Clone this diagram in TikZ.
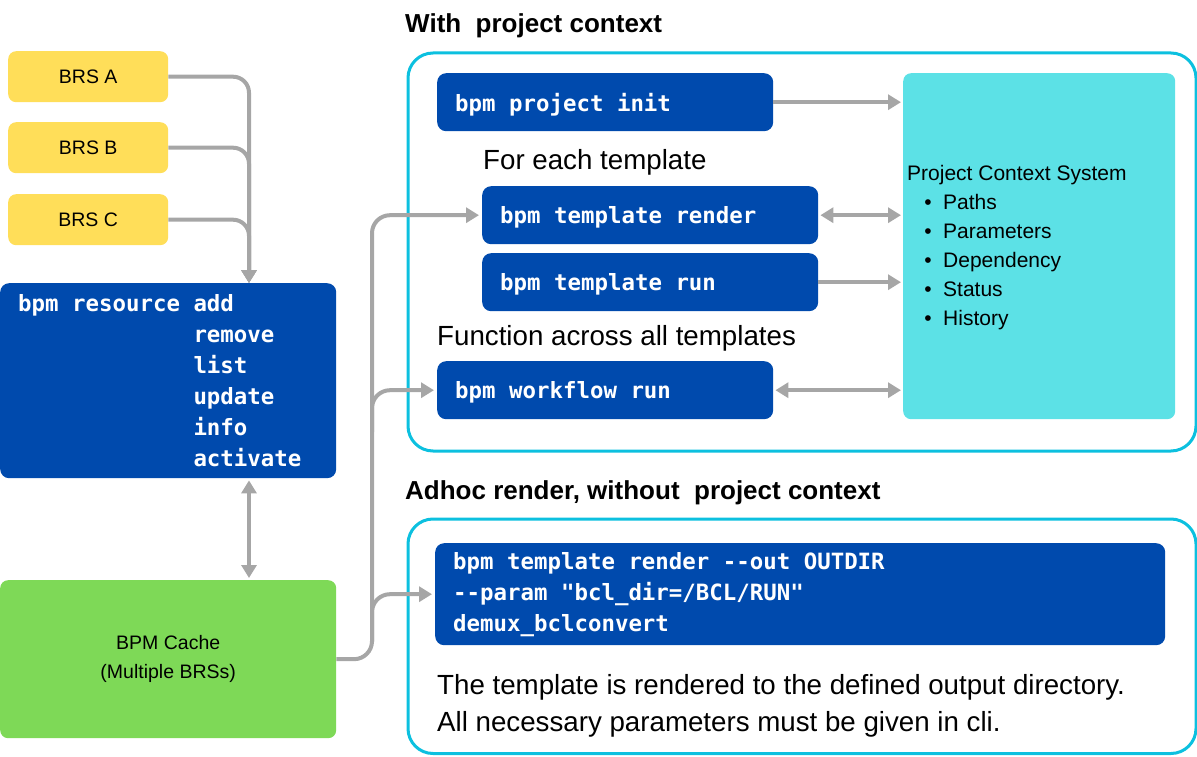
\documentclass[tikz,border=0pt]{standalone}
\usepackage{fontspec}
\setmainfont{Liberation Sans}
\setmonofont{DejaVu Sans Mono}
\usetikzlibrary{arrows.meta}
\definecolor{cblue}{HTML}{004AAD}
\definecolor{cyellow}{HTML}{FFDE59}
\definecolor{cgreen}{HTML}{7ED957}
\definecolor{ccyan}{HTML}{5CE1E6}
\definecolor{cframe}{HTML}{0CC0DF}
\definecolor{cgray}{HTML}{A6A6A6}
\newcommand\msp{\hspace*{0.602em}}
\newcommand\mind{\hspace*{7.826em}}
\begin{document}
\begin{tikzpicture}[x=1pt,y=-1pt,
  brs/.style={fill=cyellow, rounded corners=8pt, minimum width=160pt, minimum height=51pt, inner sep=0pt, font=\fontsize{19.5}{23}\selectfont, anchor=north west},
  cmd/.style={fill=cblue, rounded corners=9pt, text=white, font=\fontsize{22.4}{31}\selectfont\ttfamily\bfseries, align=left, inner xsep=18pt, inner ysep=0pt, anchor=north west},
  cmdone/.style={cmd, text depth=0pt, minimum width=336pt, minimum height=58pt, text width=300pt},
  frame/.style={draw=cframe, line width=3pt, rounded corners=25pt, anchor=north west, inner sep=0pt},
  title/.style={font=\fontsize{26}{30}\selectfont\bfseries, anchor=base west, inner sep=0pt},
  body/.style={font=\fontsize{27.7}{32}\selectfont, anchor=base west, inner sep=0pt},
  pcsfont/.style={font=\fontsize{21}{25}\selectfont, anchor=base west, inner sep=0pt},
  arr/.style={draw=cgray, line width=4pt, -{Triangle[length=13pt,width=15pt]}},
  darr/.style={draw=cgray, line width=4pt, {Triangle[length=13pt,width=15pt]}-{Triangle[length=13pt,width=15pt]}}
]
\useasboundingbox (0,0) rectangle (1197,757);

% left column
\node[brs] (brsA) at (8,51) {BRS A};
\node[brs] (brsB) at (8,122) {BRS B};
\node[brs] (brsC) at (8,194) {BRS C};
\node[cmd, minimum width=336pt, minimum height=195pt, text width=300pt] (res) at (0,283)
  {bpm\msp resource\msp add\\\mind remove\\\mind list\\\mind update\\\mind info\\\mind activate};
\node[fill=cgreen, rounded corners=8pt, minimum width=336pt, minimum height=158pt, anchor=north west, align=center, font=\fontsize{19.5}{29}\selectfont] (cache) at (0,580) {BPM Cache\\(Multiple BRSs)};

% with project context
\node[title] (t1) at (405,33) {With\ \ project context};
\node[frame, minimum width=788pt, minimum height=398pt] (ctx) at (406.5,51.5) {};
\node[cmdone] (pi) at (437,73) {bpm\msp project\msp init};
\node[body] (fet) at (483,170) {For each template};
\node[cmdone] (tr) at (482,186) {bpm\msp template\msp render};
\node[cmdone] (trun) at (482,253) {bpm\msp template\msp run};
\node[body] (fat) at (437,345) {Function across all templates};
\node[cmdone] (wf) at (437,361) {bpm\msp workflow\msp run};
\node[fill=ccyan, rounded corners=8pt, minimum width=272pt, minimum height=346pt, anchor=north west, inner sep=0pt] (pcs) at (903,73) {};
\node[pcsfont] (pcst) at (907,180) {Project Context System};
\foreach \t [count=\i] in {Paths,Parameters,Dependency,Status,History}{
  \node[pcsfont, anchor=base] (pcsb\i) at (928,180+29*\i) {\textbullet};
  \node[pcsfont] (pcsi\i) at (943,180+29*\i) {\t};
}

% adhoc
\node[title] (t2) at (405,499) {Adhoc render, without\ \ project context};
\node[frame, minimum width=788pt, minimum height=234.5pt] (adf) at (406.5,517.5) {};
\node[cmd, minimum width=730pt, minimum height=102pt, text width=694pt] (adhoc) at (435,543)
  {bpm\msp template\msp render\msp -{}-out\msp OUTDIR\\-{}-param\msp "bcl\_dir=/BCL/RUN"\\demux\_bclconvert};
\node[body] (b1) at (437,694) {The template is rendered to the defined output directory.};
\node[body] (b2) at (437,731) {All necessary parameters must be given in cli.};

% connectors
\coordinate (resIn) at (249,283);
\draw[arr, rounded corners=16pt] (brsA.east) -| (resIn);
\draw[arr, rounded corners=16pt] (brsB.east) -| (resIn);
\draw[arr, rounded corners=16pt] (brsC.east) -| (resIn);
\draw[darr, shorten <=2pt, shorten >=2pt] (res.south -| resIn) -- (cache.north -| resIn);

\coordinate (busX) at (372,0);
\coordinate (wfBr) at (372,432);
\coordinate (adBr) at (372,642);
\draw[arr, rounded corners=18pt, shorten >=3pt] (cache.east) -| (tr.west -| busX) -- (tr.west);
\draw[arr, rounded corners=18pt, shorten >=3pt] (wfBr) |- (wf.west);
\draw[arr, rounded corners=18pt, shorten >=3pt] (adBr) |- (adhoc.west);

\draw[arr, shorten >=2pt] (pi.east) -- (pi.east -| pcs.west);
\draw[darr, shorten <=2pt, shorten >=2pt] (tr.east) -- (tr.east -| pcs.west);
\draw[arr, shorten >=2pt] (trun.east) -- (trun.east -| pcs.west);
\draw[darr, shorten <=2pt, shorten >=2pt] (wf.east) -- (wf.east -| pcs.west);
\end{tikzpicture}
\end{document}
